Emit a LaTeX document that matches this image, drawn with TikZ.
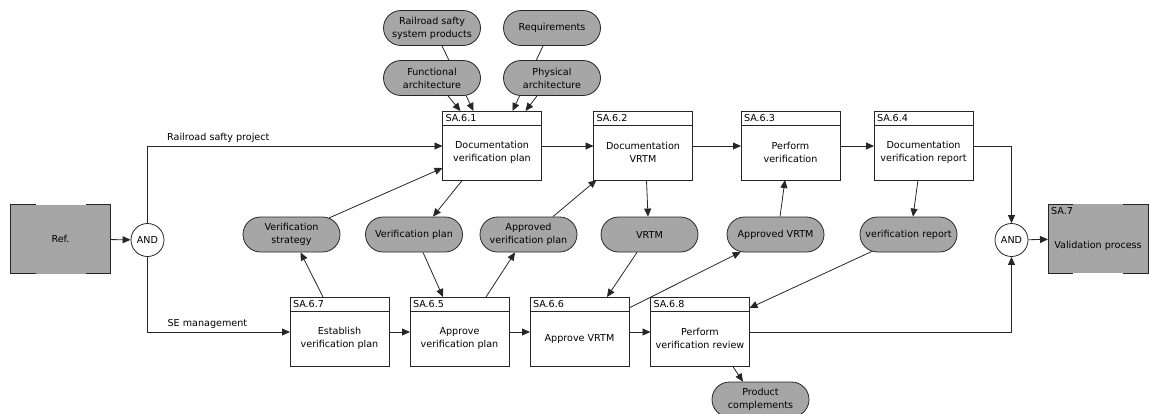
\documentclass[tikz,border=0pt]{standalone}
\usepackage{fontspec}
\setmainfont{DejaVu Sans}
\usepackage{tikz}
\usetikzlibrary{shapes.misc}
\usetikzlibrary{arrows.meta}
\colorlet{datagray}{black!35}
\colorlet{edge}{black!85}
\tikzset{
  % node options
  process/.style={rectangle,draw=edge,line width=0.8pt,fill=white,outer sep=0pt,minimum width=99pt,minimum height=55pt,align=center,inner sep=2pt},
  header/.style={rectangle,draw=edge,line width=0.8pt,fill=white,outer sep=0pt,minimum width=99pt,minimum height=14pt,text width=93pt,inner xsep=3pt,inner ysep=0pt,align=left},
  data/.style={rounded rectangle,draw=edge,line width=0.8pt,fill=datagray,minimum width=99pt,minimum height=35pt,align=center,inner sep=1pt},
  external/.style={rectangle,fill=datagray,outer sep=0pt,minimum width=100pt,minimum height=69pt},
  junction/.style={circle,draw=edge,line width=0.8pt,fill=white,minimum size=33pt,inner sep=0pt},
  % path options
  flow/.style={-{Triangle[length=8pt,width=7pt]},draw=edge,line width=0.8pt},
  frame/.style={draw=edge,line width=0.8pt},
}

\begin{document}
\begin{tikzpicture}[x=1pt,y=-1pt,font=\fontsize{9.6}{13}\selectfont]
  \useasboundingbox (0,0) rectangle (1149,413);
  % outside
  \node[external] (ref) at (60.5,239) {Ref.};
  \node[junction] (and1) at (147.5,240) {AND};
  \node[junction] (and2) at (1011.5,240) {AND};
  \node[external,label={[name=sa7id,anchor=north west,inner sep=3pt]north west:SA.7},
        label={[name=sa7text,yshift=-7.5pt]center:Validation process}] (sa7) at (1098,238.5) {};
  \foreach \n in {ref,sa7}
    \draw[frame] ([xshift=25pt]\n.north west) -- (\n.north west) -- (\n.south west) -- ([xshift=25pt]\n.south west)
                 ([xshift=-25pt]\n.north east) -- (\n.north east) -- (\n.south east) -- ([xshift=-25pt]\n.south east);
  % activities
  \node[process,label={[header,name=h61]above:SA.6.1}] (p61) at (492,152.5) {Documentation\\verification plan};
  \node[process,label={[header,name=h62]above:SA.6.2}] (p62) at (643,152.5) {Documentation\\VRTM};
  \node[process,label={[header,name=h63]above:SA.6.3}] (p63) at (790.5,152.5) {Perform\\verification};
  \node[process,label={[header,name=h64]above:SA.6.4}] (p64) at (923.5,152.5) {Documentation\\verification report};
  \node[process,label={[header,name=h67]above:SA.6.7}] (p67) at (339.5,338.5) {Establish\\verification plan};
  \node[process,label={[header,name=h65]above:SA.6.5}] (p65) at (459.5,338.5) {Approve\\verification plan};
  \node[process,label={[header,name=h66]above:SA.6.6}] (p66) at (579.5,338.5) {Approve VRTM};
  \node[process,label={[header,name=h68]above:SA.6.8}] (p68) at (700,338.5) {Perform\\verification review};
  % inputs from the top
  \node[data] (products) at (432,28) {Railroad safty\\system products};
  \node[data] (requirements) at (552,28) {Requirements};
  \draw[flow] ([xshift=10pt]products.south) -- ([xshift=31pt]h61.north west);
  \draw[flow] ([xshift=-9pt]requirements.south) -- ([xshift=70pt]h61.north west);
  \node[data] (funcarch) at (432,78) {Functional\\architecture};
  \node[data] (physarch) at (552,78) {Physical\\architecture};
  \draw[flow] ([xshift=16pt]funcarch.south) -- ([xshift=18pt]h61.north west);
  \draw[flow] ([xshift=-15pt]physarch.south) -- ([xshift=83pt]h61.north west);
  % data between the rows
  \node[data] (vstrategy) at (291.5,234.5) {Verification\\strategy};
  \node[data] (vplan) at (414,234.5) {Verification plan};
  \node[data] (avplan) at (528.5,234.5) {Approved\\verification plan};
  \node[data] (vrtm) at (649.5,234.5) {VRTM};
  \node[data] (avrtm) at (775.5,234.5) {Approved VRTM};
  \node[data] (vreport) at (908.5,234.5) {verification report};
  \node[data] (complements) at (760.5,399.5) {Product\\complements};
  % control flow
  \draw[flow] (ref) -- (and1);
  \draw[flow] (and1) |- node[above,pos=0.62] {Railroad safty project} ([yshift=6.5pt]p61.west);
  \draw[flow] (and1) |- node[above,pos=0.71] {SE management} ([yshift=6.5pt]p67.west);
  \draw[flow] ([yshift=6.5pt]p61.east) -- ([yshift=6.5pt]p62.west);
  \draw[flow] ([yshift=6.5pt]p62.east) -- ([yshift=6.5pt]p63.west);
  \draw[flow] ([yshift=6.5pt]p63.east) -- ([yshift=6.5pt]p64.west);
  \draw[flow] ([yshift=6.5pt]p67.east) -- ([yshift=6.5pt]p65.west);
  \draw[flow] ([yshift=6.5pt]p65.east) -- ([yshift=6.5pt]p66.west);
  \draw[flow] ([yshift=6.5pt]p66.east) -- ([yshift=6.5pt]p68.west);
  \draw[flow] ([yshift=6.5pt]p64.east) -| (and2);
  \draw[flow] ([yshift=6.5pt]p68.east) -| (and2);
  \draw[flow] (and2) -- (sa7);
  % data flow
  \draw[flow] (vstrategy) -- ([yshift=-15.5pt]p61.west);
  \draw[flow] ([xshift=33pt]h67.north west) -- (vstrategy);
  \draw[flow] ([xshift=20pt]p61.south west) -- ([xshift=19pt]vplan.north);
  \draw[flow] ([xshift=9pt]vplan.south) -- ([xshift=33pt]h65.north west);
  \draw[flow] ([xshift=76pt]h65.north west) -- ([xshift=-13.5pt]avplan.south);
  \draw[flow] ([xshift=24.5pt]avplan.north) -- ([xshift=3pt]p62.south west);
  \draw[flow] ([xshift=53pt]p62.south west) -- ([xshift=-1.5pt]vrtm.north);
  \draw[flow] ([xshift=-12.5pt]vrtm.south) -- ([xshift=77pt]h66.north west);
  \draw[flow] ([yshift=3pt]h66.south east) -- (avrtm);
  \draw[flow] ([xshift=4.5pt]avrtm.north) -- ([xshift=44pt]p63.south west);
  \draw[flow] ([xshift=44pt]p64.south west) -- ([xshift=4.5pt]vreport.north);
  \draw[flow] (vreport) -- ([yshift=3pt]h68.south east);
  \draw[flow] ([xshift=82pt]p68.south west) -- ([xshift=-17.5pt]complements.north);
\end{tikzpicture}
\end{document}
